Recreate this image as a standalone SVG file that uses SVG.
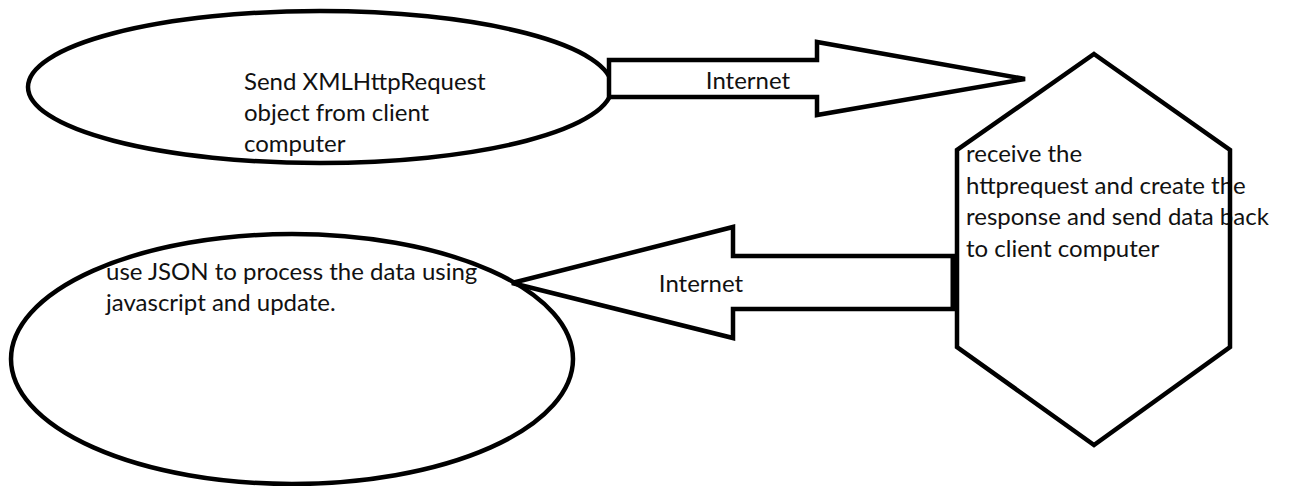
<svg xmlns="http://www.w3.org/2000/svg" width="1293" height="486" viewBox="0 0 1293 486">
<style>
.sh{fill:#fff;stroke:#000;stroke-width:4.5;stroke-linejoin:miter}
.ol{fill:none;stroke:#000;stroke-width:4.5}
.t{font-family:Lato,"Liberation Sans",sans-serif;font-size:24px;fill:#111}
</style>
<rect width="1293" height="486" fill="#fff"/>
<g id="client-send">
<ellipse class="sh" cx="320" cy="87" rx="292" ry="76"/>
<text class="t" x="244" y="90">Send XMLHttpRequest</text>
<text class="t" x="244" y="121">object from client</text>
<text class="t" x="244" y="152">computer</text>
</g>
<g id="client-update">
<ellipse class="sh" cx="292" cy="359" rx="281" ry="125"/>
<text class="t" x="106" y="280">use JSON to process the data using</text>
<text class="t" x="106" y="311">javascript and update.</text>
</g>
<g id="connectors">
<polygon class="sh" points="609,60 817,60 817,42 1025,79 817,115 817,97 609,97"/>
<text class="t" x="748" y="89" text-anchor="middle">Internet</text>
<polygon class="sh" points="955,256 733,256 733,227 512,283 733,338 733,309 955,309"/>
<line x1="954" y1="256" x2="954" y2="309" stroke="#000" stroke-width="7"/>
<text class="t" x="701" y="292" text-anchor="middle">Internet</text>
</g>
<g id="server">
<polygon points="1094,54 1230,150 1230,347 1094,445 957,347 957,150" fill="#fff"/>
<text class="t" x="966" y="162">receive the</text>
<text class="t" x="966" y="194">httprequest and create the</text>
<text class="t" x="966" y="225">response and send data back</text>
<text class="t" x="966" y="257">to client computer</text>
<polygon class="ol" points="1094,54 1230,150 1230,347 1094,445 957,347 957,150"/>
</g>
</svg>
